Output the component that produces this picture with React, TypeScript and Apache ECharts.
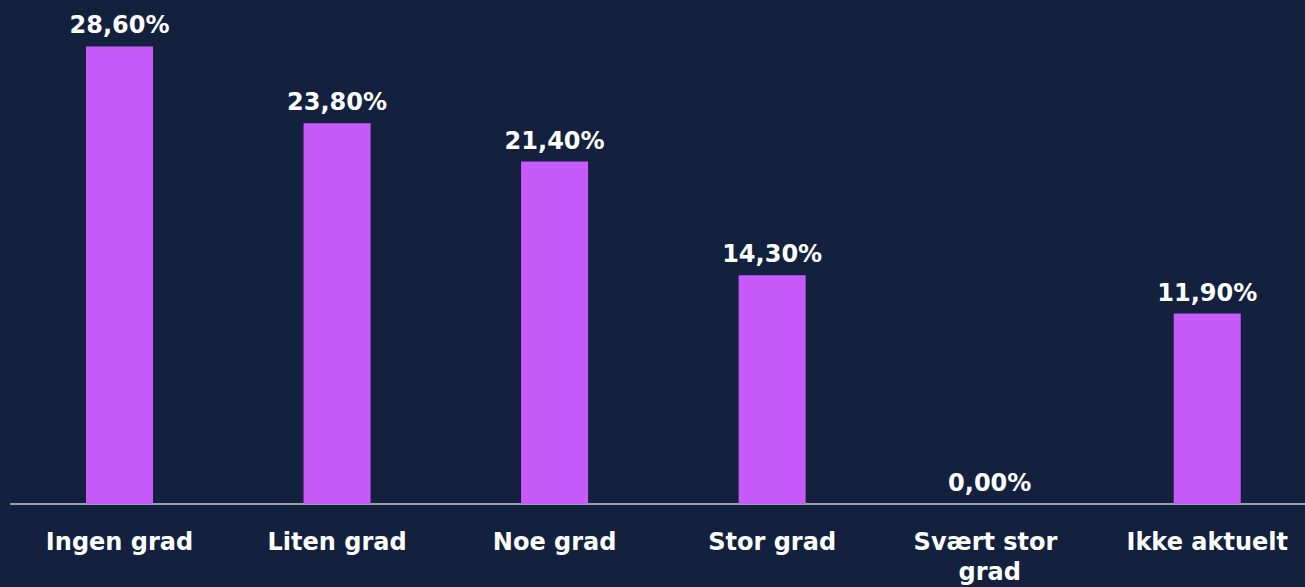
import React, { useEffect, useRef } from "react";
import * as echarts from "echarts";

const categories = ["Ingen grad", "Liten grad", "Noe grad", "Stor grad", "Svært stor grad", "Ikke aktuelt"];
const values = [28.6, 23.8, 21.4, 14.3, 0.0, 11.9];

export default function App() {
  const ref = useRef<HTMLDivElement>(null);
  useEffect(() => {
    if (!ref.current) return;
    const chart = echarts.init(ref.current, null, { renderer: "svg" });
    const font = "'DejaVu Sans', Verdana, sans-serif";
    chart.setOption({
      animation: false,
      backgroundColor: "#13213e",
      grid: { left: 10.75, right: 0, top: 24, height: 482, containLabel: false },
      xAxis: {
        type: "category",
        data: categories,
        axisLine: { show: true, lineStyle: { color: "#c8c8c8", width: 1.5 } },
        axisTick: { show: false },
        axisLabel: {
          color: "#ffffff",
          fontFamily: font,
          fontWeight: "bold",
          fontSize: 24,
          margin: 23,
          lineHeight: 30,
          width: 190,
          overflow: "break",
          interval: 0,
        },
      },
      yAxis: {
        type: "value",
        min: 0,
        max: 30,
        show: false,
        splitLine: { show: false },
      },
      series: [
        {
          type: "bar",
          data: values,
          barWidth: 67,
          itemStyle: { color: "#c75bfa" },
          label: {
            show: true,
            position: "top",
            distance: 9,
            color: "#ffffff",
            fontFamily: font,
            fontWeight: "bold",
            fontSize: 24,
            formatter: (p: any) => p.value.toFixed(2).replace(".", ",") + "%",
          },
        },
      ],
    });
    return () => chart.dispose();
  }, []);
  return (
    <div style={{ position: "absolute", left: 0, top: 0, width: 1305, height: 587, overflow: "hidden", background: "#13213e" }}>
      <div ref={ref} style={{ position: "absolute", left: 0, top: 0, width: 1316, height: 587 }} />
    </div>
  );
}
